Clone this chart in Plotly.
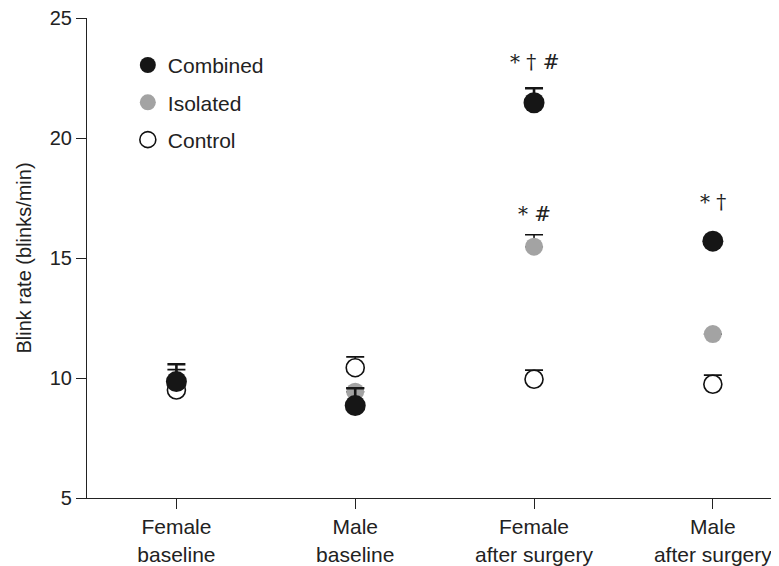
import plotly.graph_objects as go

categories = ["Female<br>baseline", "Male<br>baseline", "Female<br>after surgery", "Male<br>after surgery"]
combined = [9.85, 8.85, 21.47, 15.7]
combined_err = [0.72, 0.72, 0.6, 0.0]
isolated = [9.9, 9.43, 15.47, 11.83]
isolated_err = [0.45, 0.15, 0.5, 0.0]
control = [9.5, 10.43, 9.95, 9.74]
control_err = [0.2, 0.45, 0.38, 0.38]
sig_labels = ["* † #", "* #", "* †"]
sig_cats = [2, 2, 3]
sig_y = [23.15, 16.85, 17.35]

xs = list(range(len(categories)))
font = "Liberation Sans, Arial, sans-serif"

fig = go.Figure()
fig.add_trace(go.Scatter(
    x=xs, y=control, mode="markers", name="Control", legendrank=3, legendgroup="c",
    marker=dict(size=18, color="white", line=dict(color="#111", width=1.6)),
    error_y=dict(type="data", array=control_err, arrayminus=[0]*4, symmetric=False,
                 color="#111", thickness=1.6, width=9)))
fig.add_trace(go.Scatter(
    x=xs, y=isolated, mode="markers", name="Isolated", legendrank=2, legendgroup="b",
    marker=dict(size=18, color="#a3a3a3", line=dict(width=0)),
    error_y=dict(type="data", array=isolated_err, arrayminus=[0]*4, symmetric=False,
                 color="#111", thickness=1.6, width=9)))
fig.add_trace(go.Scatter(
    x=xs, y=combined, mode="markers", name="Combined", legendrank=1, legendgroup="a",
    marker=dict(size=21, color="#161616", line=dict(width=0)),
    error_y=dict(type="data", array=combined_err, arrayminus=[0]*4, symmetric=False,
                 color="#161616", thickness=2.6, width=9)))

for t, cx, cy in zip(sig_labels, sig_cats, sig_y):
    fig.add_annotation(x=cx, y=cy, text=t, showarrow=False,
                       font=dict(family="DejaVu Serif, serif", size=20, color="#222"))

fig.update_layout(
    width=771, height=558,
    margin=dict(l=79, r=0, t=10, b=68),
    plot_bgcolor="white", paper_bgcolor="white",
    font=dict(family=font, size=20, color="#222"),
    showlegend=True,
    legend=dict(x=0.059, y=0.944, xanchor="left", yanchor="top", bgcolor="rgba(0,0,0,0)",
                font=dict(size=21, color="#222"), tracegroupgap=7, itemwidth=30),
    xaxis=dict(range=[-0.5, 3.37], tickmode="array", tickvals=xs, ticktext=categories,
               showline=True, linecolor="#222", linewidth=1.2, ticks="outside",
               ticklen=10, tickcolor="#222", showgrid=False, zeroline=False,
               automargin=False,
               tickfont=dict(size=21, color="#222")),
    yaxis=dict(range=[5, 25], tickvals=[5, 10, 15, 20, 25], showline=True,
               linecolor="#222", linewidth=1.2, ticks="outside", ticklen=10,
               tickcolor="#222", showgrid=False, zeroline=False,
               ticklabeloverflow="allow", automargin="left",
               title=dict(text="Blink rate (blinks/min)", font=dict(size=20, color="#222"), standoff=12),
               tickfont=dict(size=20, color="#222")),
)

fig.write_html("out.html")
